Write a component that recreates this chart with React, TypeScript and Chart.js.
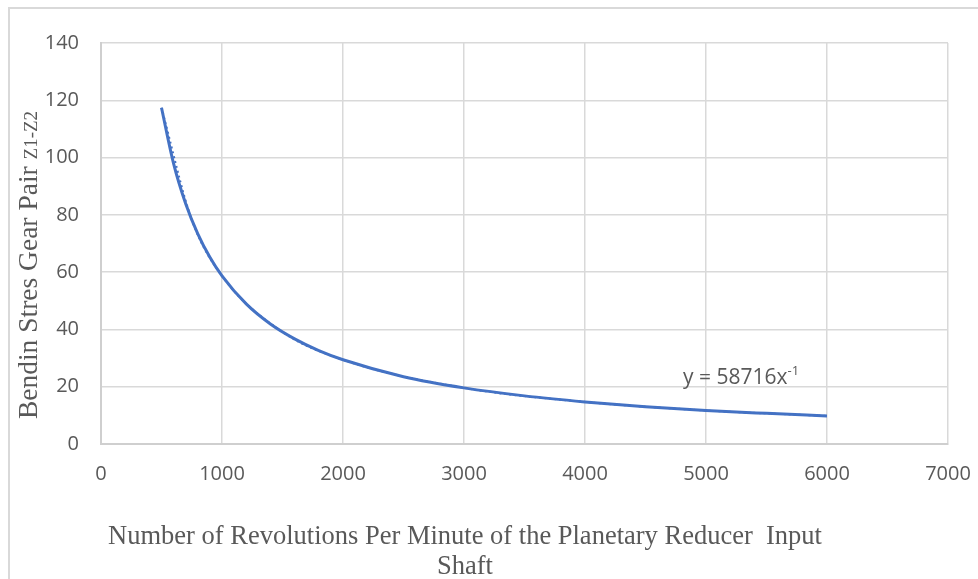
import React, { useEffect, useRef } from "react";
import { Chart, registerables } from "chart.js";

Chart.register(...registerables);

const rpm = [500, 600, 700, 800, 900, 1000, 1200, 1400, 1600, 1800, 2000, 2500, 3000, 3500, 4000, 4500, 5000, 5500, 6000];
const stress = [117.4, 97.9, 83.9, 73.4, 65.2, 58.7, 48.9, 41.9, 36.7, 32.6, 29.4, 23.5, 19.6, 16.8, 14.7, 13.0, 11.7, 10.7, 9.8];
const trendX = [500, 750, 1000, 1500, 2000, 3000, 4000, 5000, 6000];
const trendY = [117.4, 78.3, 58.7, 39.1, 29.4, 19.6, 14.7, 11.7, 9.8];

const xTitleLines = ["Number of Revolutions Per Minute of the Planetary Reducer  Input", "Shaft"];
const yTitleMain = "Bendin Stres Gear Pair ";
const yTitleSub = "Z1-Z2";
const eqMain = "y = 58716x";
const eqSup = "-1";

const TEXT = "#595959";
const GRID = "#d9d9d9";

const textPlugin = {
  id: "customText",
  afterDraw(chart: any) {
    const ctx = chart.ctx;
    ctx.save();
    ctx.fillStyle = TEXT;
    // x title
    ctx.font = '26.5px "Liberation Serif", "Times New Roman", serif';
    ctx.textAlign = "center";
    ctx.textBaseline = "middle";
    ctx.fillText(xTitleLines[0], 465, 537);
    ctx.fillText(xTitleLines[1], 465, 567);
    // y title
    ctx.translate(37, 265);
    ctx.rotate(-Math.PI / 2);
    ctx.textAlign = "left";
    ctx.textBaseline = "alphabetic";
    const mainFont = '27.5px "Liberation Serif", "Times New Roman", serif';
    const subFont = '19px "Liberation Serif", "Times New Roman", serif';
    ctx.font = mainFont;
    const w1 = ctx.measureText(yTitleMain).width;
    ctx.font = subFont;
    const w2 = ctx.measureText(yTitleSub).width;
    const start = -(w1 + w2) / 2;
    ctx.font = mainFont;
    ctx.fillText(yTitleMain, start, 0);
    ctx.font = subFont;
    ctx.fillText(yTitleSub, start + w1, 0);
    ctx.restore();

    // equation label
    ctx.save();
    ctx.fillStyle = TEXT;
    ctx.textAlign = "left";
    ctx.textBaseline = "alphabetic";
    ctx.font = '21px "Open Sans", sans-serif';
    ctx.fillText(eqMain, 683, 384);
    const we = ctx.measureText(eqMain).width;
    ctx.font = '13px "Open Sans", sans-serif';
    ctx.fillText(eqSup, 683 + we, 375);
    ctx.restore();
  },
};

export default function App() {
  const ref = useRef<HTMLCanvasElement | null>(null);
  useEffect(() => {
    if (!ref.current) return;
    const chart = new Chart(ref.current, {
      type: "scatter",
      data: {
        datasets: [
          {
            label: "trend",
            data: trendX.map((x, i) => ({ x, y: trendY[i] })),
            showLine: true,
            borderColor: "#4472C4",
            borderWidth: 2,
            borderDash: [2, 3],
            pointRadius: 0,
            cubicInterpolationMode: "monotone",
          } as any,
          {
            label: "data",
            data: rpm.map((x, i) => ({ x, y: stress[i] })),
            showLine: true,
            borderColor: "#4472C4",
            borderWidth: 3,
            pointRadius: 0,
            cubicInterpolationMode: "monotone",
          } as any,
        ],
      },
      options: {
        responsive: false,
        animation: false,
        layout: { padding: { left: 0, top: 43, right: 30, bottom: 0 } },
        plugins: { legend: { display: false }, tooltip: { enabled: false }, title: { display: false } },
        scales: {
          x: {
            type: "linear",
            min: 0,
            max: 7000,
            afterFit: (s: any) => {
              s.height = 135;
              s.paddingLeft = 0;
              s.paddingRight = 0;
            },
            ticks: {
              stepSize: 1000,
              color: TEXT,
              padding: 18,
              maxRotation: 0,
              callback: (v: any) => String(v),
              font: { family: '"Open Sans", sans-serif', size: 20 },
            },
            grid: { color: GRID, lineWidth: 1.5, drawTicks: false },
            border: { color: "#cfcfcf", width: 2 },
          },
          y: {
            type: "linear",
            min: 0,
            max: 140,
            afterFit: (s: any) => {
              s.width = 101;
              s.paddingTop = 0;
              s.paddingBottom = 0;
            },
            ticks: {
              stepSize: 20,
              color: TEXT,
              padding: 22,
              callback: (v: any) => String(v),
              font: { family: '"Open Sans", sans-serif', size: 20 },
            },
            grid: { color: GRID, lineWidth: 1.5, drawTicks: false },
            border: { color: "#cfcfcf", width: 2 },
          },
        },
      } as any,
      plugins: [textPlugin],
    });
    return () => chart.destroy();
  }, []);
  return (
    <div style={{ position: "absolute", left: 0, top: 0, width: 978, height: 579, overflow: "hidden", background: "#fff" }}>
      <div
        style={{
          position: "absolute",
          left: 8,
          top: 7,
          width: 1000,
          height: 600,
          border: "2px solid #d9d9d9",
          boxSizing: "border-box",
        }}
      />
      <canvas ref={ref} width={978} height={579} style={{ position: "absolute", left: 0, top: 0, width: 978, height: 579 }} />
    </div>
  );
}
